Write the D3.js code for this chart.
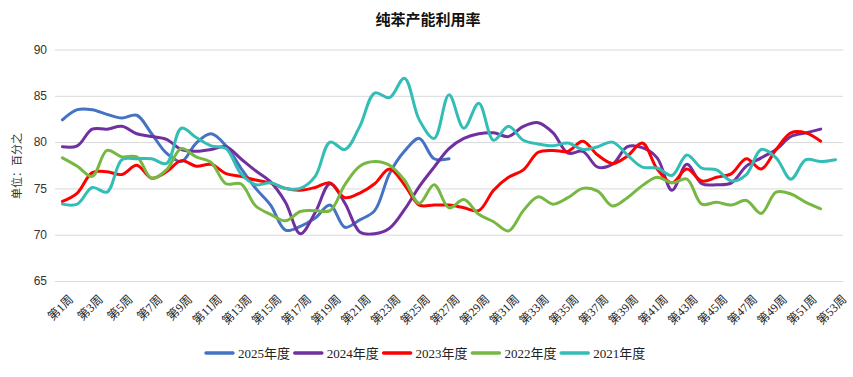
<!DOCTYPE html>
<html><head><meta charset="utf-8">
<script src="https://cdn.jsdelivr.net/npm/d3@7/dist/d3.min.js"></script>
<style>body{margin:0;background:#fff}svg{display:block}</style>
</head><body><svg id="c" width="853" height="377"></svg>
<script>
const weeks = d3.range(1, 54).map(i => "第" + i + "周");
const yTicks = [65, 70, 75, 80, 85, 90];
const seriesNames = ["2025年度", "2024年度", "2023年度", "2022年度", "2021年度"];
const colors = ["#4472C4", "#7030A0", "#FF0000", "#77B843", "#33BDB5"];
const s2025 = [82.4,83.5,83.5,83.0,82.6,82.9,80.9,78.8,77.9,79.9,80.9,79.6,77.2,75.0,73.2,70.5,70.9,71.8,73.2,70.8,71.6,72.6,76.6,79.0,80.4,78.2,78.2];
const s2024 = [79.5,79.6,81.4,81.4,81.7,80.9,80.6,80.3,79.2,79.0,79.2,79.5,78.2,76.9,75.7,73.5,70.1,72.4,75.5,73.4,70.3,70.1,70.7,72.7,75.2,77.3,79.3,80.4,80.9,81.0,80.6,81.7,82.1,81.0,78.8,79.0,77.3,77.6,79.5,79.4,78.3,74.8,77.6,75.5,75.4,75.6,77.4,78.3,79.2,80.6,81.0,81.4];
const s2023 = [73.6,74.5,76.7,76.8,76.5,77.5,76.1,76.8,78.0,77.4,77.6,76.6,76.3,75.9,75.6,75.0,74.8,75.1,75.6,74.0,74.5,75.5,77.1,75.4,73.2,73.2,73.2,72.9,72.6,74.8,76.2,77.0,78.9,79.1,79.0,80.1,78.6,77.7,78.5,79.9,77.1,75.6,77.1,75.8,76.2,76.6,78.2,77.1,79.2,81.0,81.0,80.1];
const s2022 = [78.3,77.4,76.3,79.1,78.4,78.4,76.1,77.0,79.3,78.4,77.8,75.5,75.5,73.1,72.2,71.5,72.5,72.6,72.6,75.4,77.4,77.9,77.5,75.9,73.4,75.4,72.9,73.8,72.2,71.4,70.4,72.6,74.1,73.3,74.0,75.0,74.7,73.1,74.0,75.3,76.2,75.6,76.0,73.3,73.5,73.2,73.7,72.3,74.6,74.4,73.5,72.8];
const s2021 = [73.3,73.3,75.1,74.6,78.1,78.2,78.2,77.7,81.5,80.5,79.6,79.3,76.6,75.4,75.6,75.0,75.0,76.3,80.0,79.2,81.7,85.3,84.8,86.9,82.4,80.4,85.1,81.5,84.2,80.2,81.7,80.2,79.8,79.6,79.9,79.2,79.5,80.0,78.6,77.3,77.2,76.4,78.6,77.2,77.0,75.8,76.5,79.2,78.3,76.0,78.1,77.9,78.1];
const allSeries = [s2025, s2024, s2023, s2022, s2021];

const svg = d3.select("#c");
const L = 55, R = 843, T = 49.5, B = 281;
const x = d3.scalePoint().domain(weeks).range([L, R]).padding(0.5);
const y = d3.scaleLinear().domain([65, 90]).range([B, T]);

// title
svg.append("text").attr("x", 428).attr("y", 25).attr("text-anchor", "middle")
  .attr("font-family", "'Noto Sans CJK SC'").attr("font-weight", "bold").attr("font-size", 15)
  .attr("fill", "#111").text("纯苯产能利用率");

// gridlines
const yAxis = d3.axisLeft(y).tickValues(yTicks).tickSize(-(R - L)).tickPadding(8);
const gy = svg.append("g").attr("transform", `translate(${L},0)`).call(yAxis);
gy.select(".domain").remove();
gy.selectAll(".tick line").attr("stroke", "#d9d9d9").attr("stroke-width", 1);
gy.selectAll(".tick text").attr("font-family", "'Liberation Sans Narrow','Liberation Sans',Arial").attr("font-size", 12).attr("fill", "#333");

// y label
svg.append("text").attr("transform", "translate(21,166) rotate(-90)").attr("text-anchor", "middle")
  .attr("font-family", "'Noto Sans CJK SC'").attr("font-size", 11).attr("fill", "#333").text("单位：百分之");

// x axis labels
const xAxis = d3.axisBottom(x).tickValues(weeks.filter((d, i) => i % 2 === 0)).tickSize(0);
const gx = svg.append("g").attr("transform", `translate(0,${B})`).call(xAxis);
gx.select(".domain").remove();
gx.selectAll(".tick text").attr("text-anchor", "end")
  .attr("transform", "translate(6,14) rotate(-45)").attr("dy", "0.35em")
  .attr("font-family", "'Liberation Serif','Noto Sans CJK SC'").attr("font-size", 12).attr("fill", "#222");

// lines
const line = d3.line().x((d, i) => x(weeks[i])).y(d => y(d)).curve(d3.curveCatmullRom.alpha(0.5));
allSeries.forEach((s, k) => {
  svg.append("path").datum(s).attr("d", line).attr("fill", "none")
    .attr("stroke", colors[k]).attr("stroke-width", 3).attr("stroke-linejoin", "round").attr("stroke-linecap", "round");
});

// legend
const lg = svg.append("g");
seriesNames.forEach((n, k) => {
  const lx = 206 + k * 88.8;
  lg.append("line").attr("x1", lx).attr("x2", lx + 27).attr("y1", 353).attr("y2", 353)
    .attr("stroke", colors[k]).attr("stroke-width", 3.5).attr("stroke-linecap", "round");
  lg.append("text").attr("x", lx + 32).attr("y", 357.5)
    .attr("font-family", "'Liberation Serif','Noto Sans CJK SC'").attr("font-size", 13).attr("fill", "#222").text(n);
});
</script></body></html>
